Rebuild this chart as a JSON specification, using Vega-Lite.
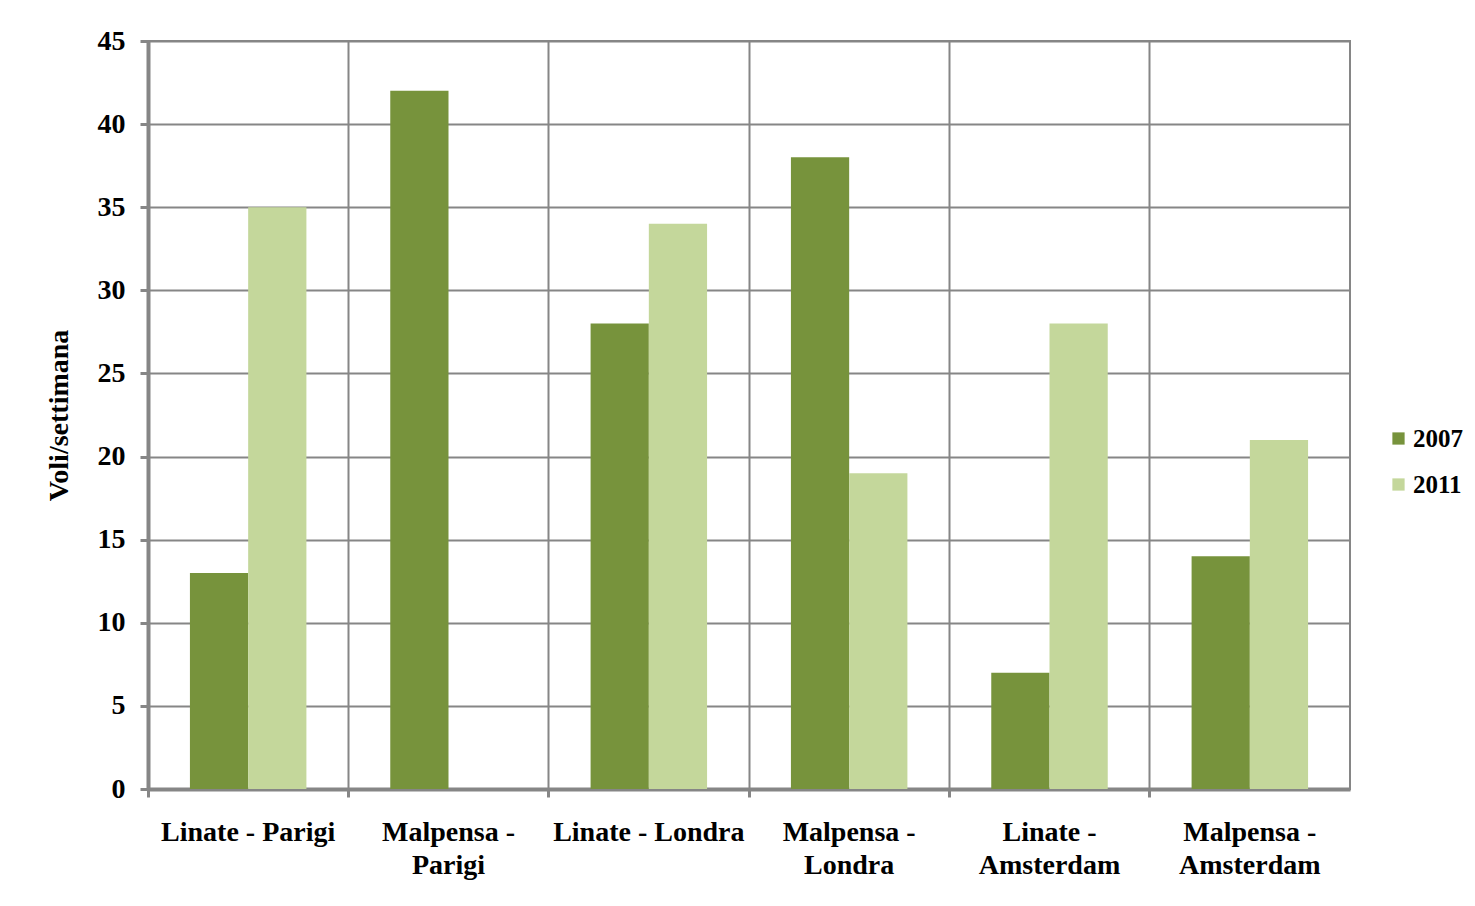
{
  "$schema": "https://vega.github.io/schema/vega-lite/v6.json",
  "width": 1202,
  "height": 748,
  "autosize": {"type": "none"},
  "padding": {"left": 148, "top": 41, "right": 125, "bottom": 117},
  "background": "white",
  "config": {
    "view": {"stroke": "#868686", "strokeWidth": 2},
    "font": "Liberation Serif"
  },
  "data": {
    "values": [
      {"rotta": "Linate - Parigi", "anno": "2007", "voli": 13},
      {"rotta": "Linate - Parigi", "anno": "2011", "voli": 35},
      {"rotta": "Malpensa -|Parigi", "anno": "2007", "voli": 42},
      {"rotta": "Malpensa -|Parigi", "anno": "2011", "voli": 0},
      {"rotta": "Linate - Londra", "anno": "2007", "voli": 28},
      {"rotta": "Linate - Londra", "anno": "2011", "voli": 34},
      {"rotta": "Malpensa -|Londra", "anno": "2007", "voli": 38},
      {"rotta": "Malpensa -|Londra", "anno": "2011", "voli": 19},
      {"rotta": "Linate -|Amsterdam", "anno": "2007", "voli": 7},
      {"rotta": "Linate -|Amsterdam", "anno": "2011", "voli": 28},
      {"rotta": "Malpensa -|Amsterdam", "anno": "2007", "voli": 14},
      {"rotta": "Malpensa -|Amsterdam", "anno": "2011", "voli": 21}
    ]
  },
  "mark": {"type": "bar"},
  "encoding": {
    "x": {
      "field": "rotta",
      "type": "nominal",
      "sort": null,
      "scale": {"paddingInner": 0, "paddingOuter": 0},
      "axis": {
        "title": null,
        "labelAngle": 0,
        "labelExpr": "split(datum.label, '|')",
        "labelFont": "Liberation Serif",
        "labelFontWeight": "bold",
        "labelFontSize": 28,
        "labelColor": "black",
        "labelLineHeight": 33,
        "labelPadding": 21,
        "labelBaseline": "top",
        "labelLimit": 0,
        "labelOverlap": false,
        "bandPosition": 0,
        "grid": true,
        "gridColor": "#868686",
        "gridWidth": 2,
        "domainColor": "#868686",
        "domainWidth": 4,
        "tickColor": "#868686",
        "tickWidth": 3,
        "tickSize": 8
      }
    },
    "xOffset": {
      "field": "anno",
      "type": "nominal",
      "scale": {"paddingInner": 0, "paddingOuter": 0.72}
    },
    "y": {
      "field": "voli",
      "type": "quantitative",
      "scale": {"domain": [0, 45]},
      "axis": {
        "title": "Voli/settimana",
        "titleFont": "Liberation Serif",
        "titleFontWeight": "bold",
        "titleFontSize": 28,
        "titleColor": "black",
        "titlePadding": 24,
        "values": [0, 5, 10, 15, 20, 25, 30, 35, 40, 45],
        "labelFont": "Liberation Serif",
        "labelFontWeight": "bold",
        "labelFontSize": 28,
        "labelColor": "black",
        "labelPadding": 15,
        "grid": true,
        "gridColor": "#868686",
        "gridWidth": 2,
        "domainColor": "#868686",
        "domainWidth": 4,
        "tickColor": "#868686",
        "tickWidth": 3,
        "tickSize": 8
      }
    },
    "color": {
      "field": "anno",
      "type": "nominal",
      "scale": {"domain": ["2007", "2011"], "range": ["#77933C", "#C4D79B"]},
      "legend": {
        "title": null,
        "orient": "none",
        "legendX": 1238,
        "legendY": 385,
        "symbolType": "square",
        "symbolSize": 150,
        "symbolStrokeWidth": 0,
        "labelFont": "Liberation Serif",
        "labelFontWeight": "bold",
        "labelFontSize": 25,
        "labelColor": "black",
        "labelOffset": 2,
        "rowPadding": 20
      }
    }
  }
}
